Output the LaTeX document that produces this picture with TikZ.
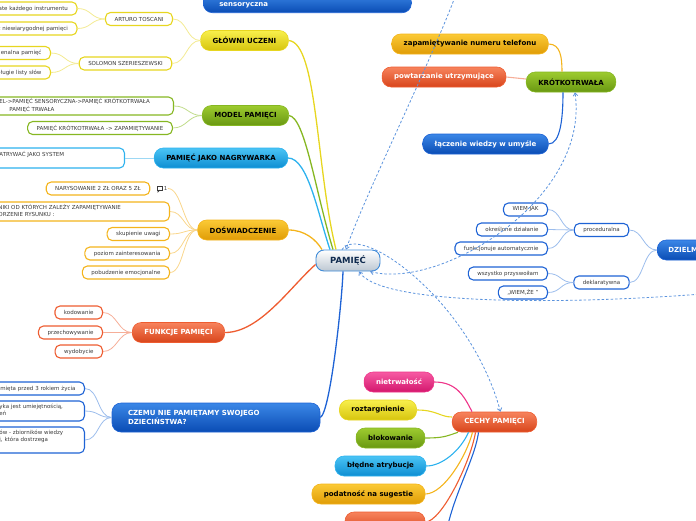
\documentclass[tikz,border=0pt]{standalone}
\usepackage{fontspec}
\setmainfont{DejaVu Sans}
\usepackage{tikz}
\usetikzlibrary{arrows.meta}

\definecolor{yelTop}{HTML}{F8EF4C}
\definecolor{yelBot}{HTML}{D7C50E}
\definecolor{yelLine}{HTML}{E7D620}
\definecolor{yelLink}{HTML}{F3EA92}
\definecolor{grnTop}{HTML}{9DCB2F}
\definecolor{grnBot}{HTML}{699812}
\definecolor{grnLine}{HTML}{86B722}
\definecolor{grnLink}{HTML}{C0DC8A}
\definecolor{cyaTop}{HTML}{4AC4F5}
\definecolor{cyaBot}{HTML}{0E8ED2}
\definecolor{cyaLine}{HTML}{2DB2EE}
\definecolor{cyaLink}{HTML}{9DD8F4}
\definecolor{oraTop}{HTML}{FBCA36}
\definecolor{oraBot}{HTML}{E09C06}
\definecolor{oraLine}{HTML}{F4B41C}
\definecolor{oraLink}{HTML}{F9D68C}
\definecolor{redTop}{HTML}{F7835D}
\definecolor{redBot}{HTML}{D8451B}
\definecolor{redLine}{HTML}{EE5C30}
\definecolor{redLink}{HTML}{F6AE98}
\definecolor{bluTop}{HTML}{3B87E7}
\definecolor{bluBot}{HTML}{0A4CB4}
\definecolor{bluLine}{HTML}{1E63D5}
\definecolor{bluLink}{HTML}{9CBDEC}
\definecolor{pnkTop}{HTML}{F75AA3}
\definecolor{pnkBot}{HTML}{D3176D}
\definecolor{pnkLine}{HTML}{EE3489}
\definecolor{rootTop}{HTML}{FFFFFF}
\definecolor{rootBot}{HTML}{BCC7D2}
\definecolor{rootLine}{HTML}{3F8BD8}
\definecolor{rootText}{HTML}{0F2A4E}
\definecolor{leafText}{HTML}{3A3A3A}
\definecolor{relBlue}{HTML}{5B93DD}

\tikzstyle{Topic}=[rectangle, rounded corners=9pt, minimum height=20pt, inner xsep=12pt, inner ysep=2pt, line width=0.6pt, font=\fontsize{7}{8.5}\selectfont\bfseries]
\tikzstyle{YellowTopic}=[Topic, draw=yelLine, top color=yelTop, bottom color=yelBot, text=black]
\tikzstyle{GreenTopic}=[Topic, draw=grnLine, top color=grnTop, bottom color=grnBot, text=black]
\tikzstyle{CyanTopic}=[Topic, draw=cyaLine, top color=cyaTop, bottom color=cyaBot, text=black]
\tikzstyle{OrangeTopic}=[Topic, draw=oraLine, top color=oraTop, bottom color=oraBot, text=black]
\tikzstyle{RedTopic}=[Topic, draw=redLine, top color=redTop, bottom color=redBot, text=white]
\tikzstyle{BlueTopic}=[Topic, draw=bluLine, top color=bluTop, bottom color=bluBot, text=white]
\tikzstyle{PinkTopic}=[Topic, draw=pnkLine, top color=pnkTop, bottom color=pnkBot, text=white]
\tikzstyle{Root}=[rectangle, rounded corners=8pt, minimum width=64pt, minimum height=21pt, inner xsep=14pt, line width=0.9pt, draw=rootLine, top color=rootTop, bottom color=rootBot, text=rootText, font=\fontsize{8.5}{10}\selectfont\bfseries]
\tikzstyle{Leaf}=[rectangle, rounded corners=5pt, fill=white, line width=1.1pt, minimum height=13pt, inner xsep=9pt, inner ysep=1.5pt, text=leafText, font=\fontsize{5.5}{7}\selectfont]
\tikzstyle{YellowLeaf}=[Leaf, draw=yelLine]
\tikzstyle{GreenLeaf}=[Leaf, draw=grnLine]
\tikzstyle{CyanLeaf}=[Leaf, draw=cyaLine]
\tikzstyle{OrangeLeaf}=[Leaf, draw=oraLine]
\tikzstyle{RedLeaf}=[Leaf, draw=redLine]
\tikzstyle{BlueLeaf}=[Leaf, draw=bluLine]
\tikzstyle{CutLeaf}=[anchor=east, text width=110pt, align=right]
\tikzstyle{CutBlock}=[anchor=east, align=left]
\tikzstyle{Link}=[line width=0.8pt]
\tikzstyle{Sub}=[line width=1.1pt]
\tikzstyle{Branch}=[line width=1.3pt]
\tikzstyle{Relation}=[draw=relBlue, line width=0.8pt, dash pattern=on 2.5pt off 2pt]

\newcommand{\cutlines}[1]{\begin{tabular}{@{\hspace{30pt}}l@{}}#1\end{tabular}}

\begin{document}
\begin{tikzpicture}[x=1pt, y=-1pt]
    \useasboundingbox (0,0) rectangle (696,520);

    % centre
    \path (348,260.5) node[Root] (pam) {PAMIĘĆ};

    % left branches
    \path
    (203,13) node[BlueTopic, anchor=south west, text width=176pt, inner xsep=16pt, align=left, minimum height=20pt] (sens) {\mbox{}\\sensoryczna}
    (244.5,40.5) node[YellowTopic] (gl) {GŁÓWNI UCZENI}
    (245.5,115.5) node[GreenTopic] (model) {MODEL PAMIĘCI}
    (221,158) node[CyanTopic] (nagr) {PAMIĘĆ JAKO NAGRYWARKA}
    (243,230) node[OrangeTopic] (dosw) {DOŚWIADCZENIE}
    (178.5,332.5) node[RedTopic] (funk) {FUNKCJE PAMIĘCI}
    (216,417.5) node[BlueTopic, text width=176pt, inner xsep=16pt, align=left, minimum height=29pt] (czemu) {CZEMU NIE PAMIĘTAMY SWOJEGO\\DZIECIŃSTWA?};

    \path
    (139,19) node[YellowLeaf] (arturo) {ARTURO TOSCANI}
    (77.5,8.5) node[YellowLeaf, CutLeaf] (arturoA) {ate każdego instrumentu}
    (77.5,28.5) node[YellowLeaf, CutLeaf] (arturoB) {z niewiarygodnej pamięci}
    (125.5,63.5) node[YellowLeaf] (solomon) {SOLOMON SZERIESZEWSKI}
    (51,53) node[YellowLeaf, CutLeaf] (solomonA) {enalna pamięć}
    (51,72.5) node[YellowLeaf, CutLeaf] (solomonB) {długie listy słów}
    (174,106) node[GreenLeaf, CutBlock, text width=195pt, minimum height=18pt] (modelA) {\cutlines{EL->PAMIĘĆ SENSORYCZNA->PAMIĘĆ KRÓTKOTRWAŁA\\\hspace{10pt}PAMIĘĆ TRWAŁA}}
    (100,128) node[GreenLeaf] (modelB) {PAMIĘĆ KRÓTKOTRWAŁA -> ZAPAMIĘTYWANIE}
    (125,158) node[CyanLeaf, CutBlock, text width=146pt, minimum height=20pt] (nagrA) {\cutlines{ATRYWAĆ JAKO SYSTEM\\\mbox{}}}
    (98,188.5) node[OrangeLeaf] (doswA) {NARYSOWANIE 2 ZŁ ORAZ 5 ZŁ}
    (165.5,188.5) node[text=leafText, inner sep=0.5pt, font=\fontsize{5.5}{7}\selectfont] (doswNote) {1}
    (170,211.5) node[OrangeLeaf, CutBlock, text width=192pt, minimum height=19pt] (doswB) {\cutlines{NIKI OD KTÓRYCH ZALEŻY ZAPAMIĘTYWANIE\\ORZENIE RYSUNKU :}}
    (170,234) node[OrangeLeaf, anchor=east] (doswC) {skupienie uwagi}
    (170,253.5) node[OrangeLeaf, anchor=east] (doswD) {poziom zainteresowania}
    (170,272.5) node[OrangeLeaf, anchor=east] (doswE) {pobudzenie emocjonalne}
    (103,312.5) node[RedLeaf, anchor=east] (funkA) {kodowanie}
    (103,332.5) node[RedLeaf, anchor=east] (funkB) {przechowywanie}
    (103,351.5) node[RedLeaf, anchor=east] (funkC) {wydobycie}
    (85,388.5) node[BlueLeaf, CutLeaf] (czemuA) {amięta przed 3 rokiem życia}
    (85,411) node[BlueLeaf, CutBlock, text width=106pt, minimum height=20pt] (czemuB) {\cutlines{yka jest umiejętnością,\\eń}}
    (85,440) node[BlueLeaf, CutBlock, text width=106pt, minimum height=26pt] (czemuC) {\cutlines{ów - zbiorników wiedzy\\j, która dostrzega\\\mbox{}}};

    % comment mark
    \draw[line width=0.6pt, draw=leafText] (156.8,186) rectangle (162.3,190);
    \draw[line width=0.6pt, draw=leafText] (158,190) -- (158,192) -- (159.8,190);

    % right side
    \path
    (470,44) node[OrangeTopic] (zapam) {zapamiętywanie numeru telefonu}
    (444,77) node[RedTopic] (powt) {powtarzanie utrzymujące}
    (571,82) node[GreenTopic] (krot) {KRÓTKOTRWAŁA}
    (485.5,144) node[BlueTopic] (lacz) {łączenie wiedzy w umyśle}
    (657,250) node[BlueTopic, anchor=west, text width=70pt, inner xsep=11pt, align=left] (dziel) {DZIELM}
    (601.5,230) node[BlueLeaf] (proc) {proceduralna}
    (601.5,282.5) node[BlueLeaf] (dekl) {deklaratywna}
    (548,209.5) node[BlueLeaf, anchor=east] (procA) {WIEM JAK}
    (548,229.5) node[BlueLeaf, anchor=east] (procB) {określone działanie}
    (548,248.5) node[BlueLeaf, anchor=east] (procC) {funkcjonuje automatycznie}
    (548,273.5) node[BlueLeaf, anchor=east] (deklA) {wszystko przyswoiłam}
    (548,292.5) node[BlueLeaf, anchor=east] (deklB) {,,WIEM,ŻE\ ''};

    \path
    (494.5,422) node[RedTopic] (cechy) {CECHY PAMIĘCI}
    (399,382) node[PinkTopic] (niet) {nietrwałość}
    (378,410) node[YellowTopic] (rozt) {roztargnienie}
    (390.5,438) node[GreenTopic] (blok) {blokowanie}
    (380.5,466) node[CyanTopic] (bled) {błędne atrybucje}
    (368.5,494) node[OrangeTopic] (podat) {podatność na sugestie}
    (385,522) node[RedTopic, minimum width=80pt] (tend) {};
    \coordinate (cechyTail) at (444,548);

    % main branches
    \draw[Branch, yelLine] (gl.east) .. controls +(29,2) and +(-20,-80) .. ([xshift=-12pt]pam.north);
    \draw[Branch, grnLine] (model.east) .. controls +(16,2) and +(-18,-60) .. ([xshift=-15pt]pam.north);
    \draw[Branch, cyaLine] (nagr.east) .. controls +(20,0) and +(-12,-35) .. ([xshift=-18pt]pam.north);
    \draw[Branch, oraLine] (dosw.east) .. controls +(16,0) and +(-6,-10) .. ([xshift=-26pt]pam.north);
    \draw[Branch, redLine] (funk.east) .. controls +(35,0) and +(-25,22) .. ([yshift=-4pt]pam.west);
    \draw[Branch, bluLine] (czemu.east) .. controls +(10,-5) and +(-1,30) .. ([xshift=-5pt]pam.south);

    % leaf links
    \draw[Link, yelLink] (gl.west) .. controls +(-14,0) and +(14,0) .. (arturo.east);
    \draw[Link, yelLink] (gl.west) .. controls +(-14,0) and +(14,0) .. (solomon.east);
    \draw[Link, yelLink] (arturo.west) .. controls +(-14,0) and +(14,0) .. (arturoA.east);
    \draw[Link, yelLink] (arturo.west) .. controls +(-14,0) and +(14,0) .. (arturoB.east);
    \draw[Link, yelLink] (solomon.west) .. controls +(-14,0) and +(14,0) .. (solomonA.east);
    \draw[Link, yelLink] (solomon.west) .. controls +(-14,0) and +(14,0) .. (solomonB.east);
    \draw[Link, grnLink] (model.west) .. controls +(-14,0) and +(14,0) .. (modelA.east);
    \draw[Link, grnLink] (model.west) .. controls +(-14,0) and +(14,0) .. (modelB.east);
    \draw[Link, cyaLink] (nagr.west) -- (nagrA.east);
    \draw[Link, oraLink] (dosw.west) .. controls +(-14,0) and +(14,0) .. (doswNote.east);
    \draw[Link, oraLink] (dosw.west) .. controls +(-14,0) and +(14,0) .. (doswB.east);
    \draw[Link, oraLink] (dosw.west) .. controls +(-14,0) and +(14,0) .. (doswC.east);
    \draw[Link, oraLink] (dosw.west) .. controls +(-14,0) and +(14,0) .. (doswD.east);
    \draw[Link, oraLink] (dosw.west) .. controls +(-14,0) and +(14,0) .. (doswE.east);
    \draw[Link, redLink] (funk.west) .. controls +(-14,0) and +(14,0) .. (funkA.east);
    \draw[Link, redLink] (funk.west) -- (funkB.east);
    \draw[Link, redLink] (funk.west) .. controls +(-14,0) and +(14,0) .. (funkC.east);
    \draw[Link, bluLink] (czemu.west) .. controls +(-14,0) and +(14,0) .. (czemuA.east);
    \draw[Link, bluLink] (czemu.west) .. controls +(-14,0) and +(14,0) .. (czemuB.east);
    \draw[Link, bluLink] (czemu.west) .. controls +(-14,0) and +(14,0) .. (czemuC.east);
    \draw[Link, bluLink] (dziel.west) .. controls +(-14,0) and +(14,0) .. (proc.east);
    \draw[Link, bluLink] (dziel.west) .. controls +(-14,0) and +(14,0) .. (dekl.east);
    \draw[Link, bluLink] (proc.west) .. controls +(-13,0) and +(13,0) .. (procA.east);
    \draw[Link, bluLink] (proc.west) -- (procB.east);
    \draw[Link, bluLink] (proc.west) .. controls +(-13,0) and +(13,0) .. (procC.east);
    \draw[Link, bluLink] (dekl.west) .. controls +(-13,0) and +(13,0) .. (deklA.east);
    \draw[Link, bluLink] (dekl.west) .. controls +(-13,0) and +(13,0) .. (deklB.east);

    % short term memory
    \draw[Sub, oraLine] (zapam.east) .. controls +(12,0) and +(0,-14) .. ([xshift=-9pt]krot.north);
    \draw[Sub, redLink] (powt.east) -- ([yshift=3pt]krot.west);
    \draw[Sub, bluLine] (lacz.east) .. controls +(12,0) and +(0,25) .. ([xshift=-8pt]krot.south);

    % features
    \draw[Sub, pnkLine] (niet.east) .. controls +(22,0) and +(-8,-16) .. ([xshift=-22.5pt]cechy.north);
    \draw[Sub, yelLine] (rozt.east) .. controls +(20,0) and +(-12,0) .. ([yshift=5pt]cechy.west);
    \draw[Sub, grnLine] (blok.east) .. controls +(18,0) and +(-12,4) .. ([xshift=6pt]cechy.south west);
    \draw[Sub, cyaLine] (bled.east) .. controls +(16,0) and +(-8,18) .. ([xshift=-26pt]cechy.south);
    \draw[Sub, oraLine] (podat.east) .. controls +(18,0) and +(-6,24) .. ([xshift=-22pt]cechy.south);
    \draw[Sub, redLine] (tend.east) .. controls +(16,0) and +(-5,30) .. ([xshift=-19pt]cechy.south);
    \draw[Sub, bluLine] ([xshift=-16pt]cechy.south) .. controls +(-4,30) and +(4,-45) .. (cechyTail);

    % relations
    \coordinate (relTop) at (455,-3);
    \coordinate (relRight) at (702,294);
    \draw[Relation, -{Straight Barb[length=3pt, width=4.5pt]}] (relTop) .. controls (425,75) and (365,195) .. ([xshift=-2pt]pam.north);
    \draw[Relation, -{Straight Barb[length=3pt, width=4.5pt]}] ([xshift=-6pt]pam.north) .. controls (360,222) and (470,300) .. ([xshift=6pt]cechy.north);
    \draw[Relation, {Straight Barb[length=3pt, width=4.5pt]}-{Straight Barb[length=3pt, width=4.5pt]}] ([xshift=22pt]pam.south) .. controls (440,290) and (590,200) .. ([xshift=4pt]krot.south);
    \draw[Relation, {Straight Barb[length=3pt, width=4.5pt]}-] ([xshift=11pt]pam.south) .. controls (380,305) and (560,305) .. (relRight);
\end{tikzpicture}
\end{document}
